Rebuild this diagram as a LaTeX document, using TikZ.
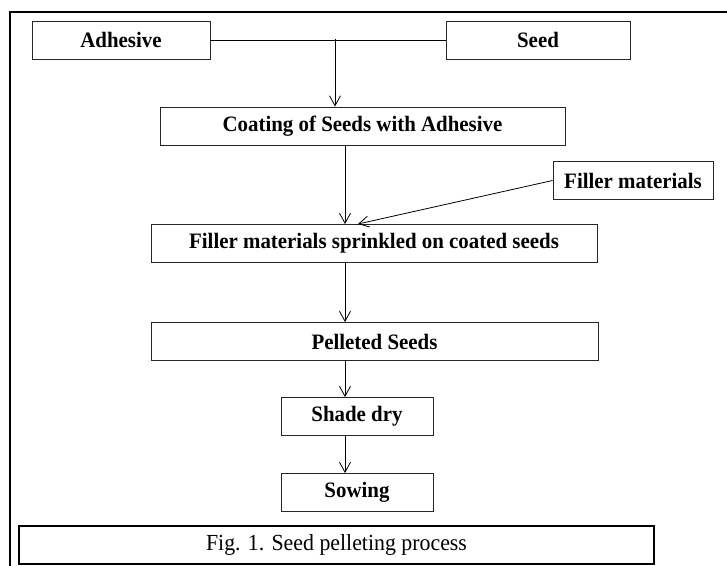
\documentclass[tikz,border=0pt]{standalone}
\usepackage{fontspec}
\setmainfont{Liberation Serif}
\newfontfamily\stagefont{Liberation Serif}[FakeStretch=0.95]
\usetikzlibrary{arrows.meta, positioning}

\begin{document}
\begin{tikzpicture}[x=1pt, y=-1pt,
        stage/.style={draw=black!85, line width=0.9pt, minimum height=38pt, inner sep=0pt,
            font=\stagefont\fontsize{22}{24}\selectfont\bfseries},
        flow/.style={-{Straight Barb[length=10pt,width=11pt]}, line width=0.8pt}]
        \useasboundingbox (0,0) rectangle (727,565);

        % Outer frame
        \draw[line width=2pt] (10,590) -- (10,12) -- (750,12);

        % Coordinates
        \coordinate (join) at (335,39);
        \coordinate (spine) at (345,0);
        \coordinate (fillin) at (358,224);

        % Process stages
        \node[stage, minimum width=178pt] (adh) at (121,40) {Adhesive};
        \node[stage, minimum width=184pt] (seed) at (538,40) {Seed};
        \node[stage, minimum width=405pt] (coat) at (362.5,126) {Coating of Seeds with Adhesive};
        \node[stage, minimum width=160pt] (filler) at (633,180.5) {Filler materials};
        \node[stage, minimum width=446pt] (sprink) at (374,243.5) {Filler materials sprinkled on coated seeds};
        \node[stage, minimum width=447pt] (pellet) at (374.5,341.5) {Pelleted Seeds};
        \node[stage, minimum width=152pt] (shade) at (357,416.5) {Shade dry};
        \node[stage, minimum width=152pt] (sow) at (357,492.5) {Sowing};

        % Caption
        \node[draw, line width=1.5pt, minimum width=635pt, minimum height=38pt, inner sep=0pt,
            font=\stagefont\fontsize{23}{25}\selectfont] (caption) at (336.5,545) {Fig. 1. Seed pelleting process};

        % Arrows
        \draw[line width=0.8pt] (adh.east) -- (seed.west);
        \draw[flow] (join) -- (join |- coat.north);
        \draw[flow] (spine |- coat.south) -- (spine |- sprink.north);
        \draw[flow] (filler.west) -- (fillin);
        \draw[flow] (spine |- sprink.south) -- (spine |- pellet.north);
        \draw[flow] (spine |- pellet.south) -- (spine |- shade.north);
        \draw[flow] (spine |- shade.south) -- (spine |- sow.north);

    \end{tikzpicture}
\end{document}
